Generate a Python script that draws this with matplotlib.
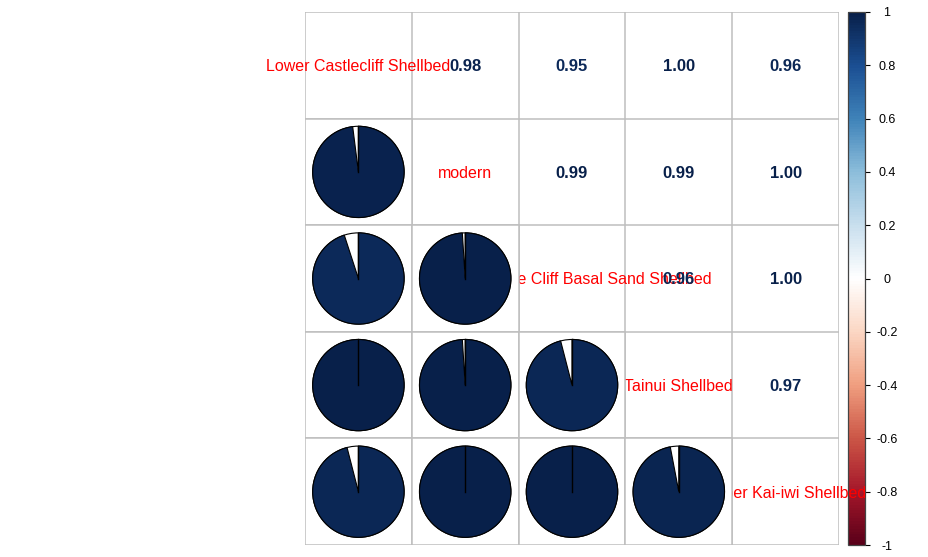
import numpy as np
import matplotlib
matplotlib.use("Agg")
import matplotlib.pyplot as plt
from matplotlib.colors import LinearSegmentedColormap, Normalize
from matplotlib.patches import Wedge, Circle, Rectangle
import matplotlib.colorbar as mcolorbar

plt.rcParams['font.family'] = ['Liberation Sans', 'DejaVu Sans']

labels = ["Lower Castlecliff Shellbed", "modern", "Shakespeare Cliff Basal Sand Shellbed",
          "Tainui Shellbed", "Upper Kai-iwi Shellbed"]
# correlation matrix (symmetric)
corr = np.array([
    [1.00, 0.98, 0.95, 1.00, 0.96],
    [0.98, 1.00, 0.99, 0.99, 1.00],
    [0.95, 0.99, 1.00, 0.96, 1.00],
    [1.00, 0.99, 0.96, 1.00, 0.97],
    [0.96, 1.00, 1.00, 0.97, 1.00],
])
cbar_ticks = [-1, -0.8, -0.6, -0.4, -0.2, 0, 0.2, 0.4, 0.6, 0.8, 1]
cbar_ticklabels = ["-1", "-0.8", "-0.6", "-0.4", "-0.2", "0", "0.2", "0.4", "0.6", "0.8", "1"]

palette = ["#5A0019", "#A5172A", "#CC5747", "#F09F80", "#FBD7C4", "#FFFFFF",
           "#C9DFEE", "#8DBEDB", "#3F83B9", "#1B4F93", "#08204A"]
cmap = LinearSegmentedColormap.from_list("RdBu_corr", palette, N=200)
norm = Normalize(-1, 1)

W, H = 929, 557
fig = plt.figure(figsize=(W / 100, H / 100), dpi=100)
ax = fig.add_axes([305 / W, (H - 545) / H, 534 / W, 533 / H])
ax.set_xlim(0, 5)
ax.set_ylim(0, 5)
ax.axis('off')
ax.patch.set_alpha(0)
ax.set_zorder(2)

n = len(labels)
grid_col = "#BEBEBE"
for k in range(n + 1):
    ax.plot([k, k], [0, n], color=grid_col, lw=1.1, zorder=1, solid_capstyle='butt')
    ax.plot([0, n], [k, k], color=grid_col, lw=1.1, zorder=1, solid_capstyle='butt')

dy = -0.014
for i in range(n):
    cy = n - i - 0.5
    ax.text(i + 0.5, cy + dy, labels[i], color="red", fontsize=11.5, ha='center', va='center',
            zorder=2, clip_on=False)
    for j in range(n):
        cx = j + 0.5
        r = corr[i, j]
        c = cmap(norm(r))
        if j > i:
            ax.text(cx, cy + dy, f"{r:.2f}", color=c, fontsize=12, fontweight='bold',
                    ha='center', va='center', zorder=6)
        elif j < i:
            ax.add_patch(Rectangle((j, n - i - 1), 1, 1, facecolor='white',
                                   edgecolor=grid_col, lw=1.1, zorder=3))
            rad = 0.428
            ax.add_patch(Circle((cx, cy), rad, facecolor='white', edgecolor='black',
                                lw=0.8, zorder=4))
            ax.add_patch(Wedge((cx, cy), rad, 90 - 360 * r, 90, facecolor=c,
                               edgecolor='black', lw=0.8, zorder=4.5))
            ax.plot([cx, cx], [cy, cy + rad], color='black', lw=1.0, zorder=5)

cax = fig.add_axes([848 / W, (H - 545) / H, 17 / W, 533 / H])
cax.set_zorder(1)
cb = mcolorbar.ColorbarBase(cax, cmap=cmap, norm=norm, orientation='vertical')
cb.set_ticks(cbar_ticks)
cb.set_ticklabels(cbar_ticklabels)
cb.outline.set_linewidth(0.9)
cb.outline.set_edgecolor('#444444')
cax.tick_params(axis='y', direction='out', length=3.5, width=0.8, labelsize=9, pad=12.2,
                colors='black')
for t in cax.get_yticklabels():
    t.set_ha('center')

fig.savefig("out.png", dpi=100)
